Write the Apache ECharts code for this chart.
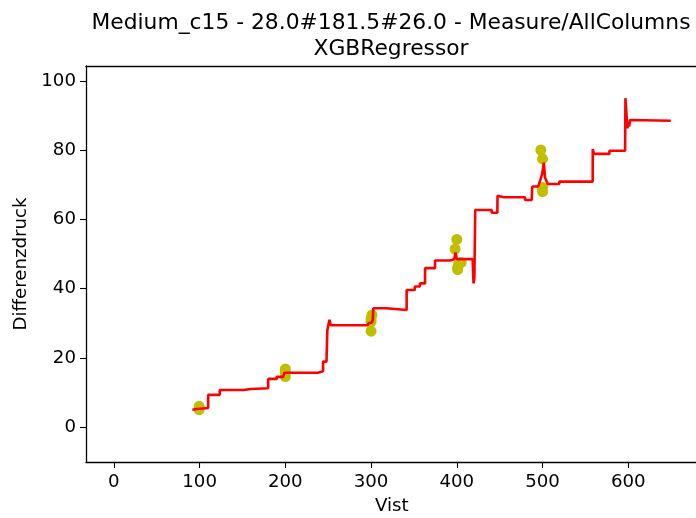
<!DOCTYPE html>
<html><head><meta charset="utf-8">
<script src="https://cdn.jsdelivr.net/npm/echarts@6/dist/echarts.min.js"></script>
<style>html,body{margin:0;padding:0;background:#fff}#c{width:696px;height:518px}</style>
</head><body><div id="c"></div>
<script>
const titleLines = ["Medium_c15 - 28.0#181.5#26.0 - Measure/AllColumns", "XGBRegressor"];
const xTicks = [0, 100, 200, 300, 400, 500, 600];
const yTicks = [0, 20, 40, 60, 80, 100];
// predicted line (Vist, Differenzdruck)
const predX = [91.5,97,98,110,110,123.5,123.5,151,151,160,160,180,180,190,190,197.5,197.5,199,238,238,244,244,248,249,251.5,253,296,297,301,302,302.6,318,318,341.5,341.5,351,351,357,357,363,363,374.6,374.6,392,392,397,398.5,400,418.5,419.5,420.5,421.5,440.7,440.7,447.3,447.5,455,479.6,479.6,487.4,488,495,497,499.5,501.5,503,506,519.6,519.6,558.5,558.6,560,578,578,596.3,596.7,599,600,601,602,649.6];
const predY = [5.0,5.2,5.5,5.5,9.3,9.3,10.7,10.7,11.0,11.0,11.2,11.2,13.9,13.9,14.5,14.5,15.0,15.7,15.7,16.1,16.1,18.9,18.9,28,31,29.4,29.4,30,30.2,31,34.3,34.3,33.8,33.8,39.6,39.6,40.6,40.6,41.5,41.5,45.9,45.9,48.1,48.1,48.5,48.5,50.4,48.5,48.5,41.5,43,62.7,62.7,61.9,61.9,66.8,66.4,66.4,65.6,65.6,69.5,69.5,70,73,76.4,72,70.2,70.2,70.9,70.9,80.3,78.9,78.9,79.8,79.8,95.0,86.3,88.0,86.8,88.7,88.5];
// measured points
const measX = [99.5,99.5,200,200,200,301,300,300,300,400,398,401,402,405,401,498,500,500,500];
const measY = [5.0,6.0,16.8,15.8,14.6,32.4,31.3,30.4,27.7,54.2,51.4,46,47,47.5,45.5,80,77.5,69.2,68.0];

const chart = echarts.init(document.getElementById('c'));
const font = 'DejaVu Sans';
const xMin = -32.5, xMax = 679.0;
chart.setOption({
  animation: false,
  title: {
    text: titleLines.join('\n'),
    left: 386, top: 5, textAlign: 'center',
    textStyle: {fontFamily: font, fontSize: 21.8, fontWeight: 'normal', color: '#000', lineHeight: 26}
  },
  grid: {left: 86, top: 66, right: 0, height: 396, show: false},
  xAxis: [{
    type: 'value', min: xMin, max: xMax,
    splitLine: {show: false},
    axisLine: {show: true, onZero: false, lineStyle: {color: '#000', width: 1.3}},
    axisTick: {show: true, length: 6, inside: false, customValues: xTicks, lineStyle: {color: '#000', width: 1.1}},
    axisLabel: {customValues: xTicks, fontFamily: font, fontSize: 18.2, color: '#000', margin: 11}
  }, {
    type: 'value', min: xMin, max: xMax, position: 'top',
    splitLine: {show: false},
    axisLine: {show: true, onZero: false, lineStyle: {color: '#000', width: 1.3}},
    axisTick: {show: false}, axisLabel: {show: false}
  }],
  yAxis: {
    type: 'value', min: -10.1, max: 104.3,
    name: 'Differenzdruck', nameLocation: 'middle', nameGap: 53, nameRotate: 90,
    nameTextStyle: {fontFamily: font, fontSize: 18.2, color: '#000'},
    splitLine: {show: false},
    axisLine: {show: true, onZero: false, lineStyle: {color: '#000', width: 1.3}},
    axisTick: {show: true, length: 6, inside: false, customValues: yTicks, lineStyle: {color: '#000', width: 1.1}},
    axisLabel: {customValues: yTicks, fontFamily: font, fontSize: 18.2, color: '#000', margin: 10}
  },
  graphic: [{
    type: 'text', left: 375, top: 497,
    style: {text: 'Vist', fontFamily: font, fontSize: 18.2, fill: '#000'}
  }],
  series: [
    {
      type: 'scatter', z: 2, xAxisIndex: 0,
      data: measX.map((x, i) => [x, measY[i]]),
      symbol: 'circle', symbolSize: 11,
      itemStyle: {color: '#bfbf00', opacity: 1}
    },
    {
      type: 'line', z: 3, xAxisIndex: 0,
      data: predX.map((x, i) => [x, predY[i]]),
      showSymbol: false, symbol: 'none',
      lineStyle: {color: '#ff0000', width: 2.6}
    }
  ]
});
</script></body></html>
